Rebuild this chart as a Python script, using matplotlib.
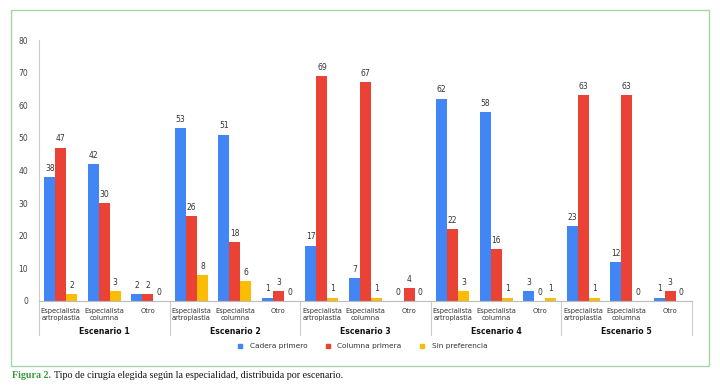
import matplotlib
matplotlib.use("Agg")
import matplotlib.pyplot as plt
from matplotlib.patches import Rectangle
from matplotlib.lines import Line2D
import numpy as np

scenarios = ["Escenario 1", "Escenario 2", "Escenario 3", "Escenario 4", "Escenario 5"]
categories = ["Especialista\nartroplastia", "Especialista\ncolumna", "Otro"]
series_names = ["Cadera primero", "Columna primera", "Sin preferencia"]
cadera = [38, 42, 2, 53, 51, 1, 17, 7, 0, 62, 58, 3, 23, 12, 1]
columna = [47, 30, 2, 26, 18, 3, 69, 67, 4, 22, 16, 0, 63, 63, 3]
sinpref = [2, 3, 0, 8, 6, 0, 1, 1, 0, 3, 1, 1, 1, 0, 0]
colors = ["#4285F4", "#EA4335", "#FBBC04"]
yticks = [0, 10, 20, 30, 40, 50, 60, 70, 80]

W, H = 720, 391
fig = plt.figure(figsize=(W / 100, H / 100), dpi=100)
ax = fig.add_axes([39 / W, 1 - 301 / H, (692 - 39) / W, (301 - 40) / H])

n = len(cadera)
x = np.arange(n)
bw = 0.253
for i, (vals, col) in enumerate(zip([cadera, columna, sinpref], colors)):
    pos = x + (i - 1) * bw
    ax.bar(pos, vals, width=bw, color=col, label=series_names[i], zorder=2)
    for p, v in zip(pos, vals):
        ax.text(p, v + 1.3, str(v), ha="center", va="bottom", fontsize=5.5, color="#333333")

ax.set_xlim(-0.5, n - 0.5)
ax.set_ylim(0, 80)
ax.set_yticks(yticks)
ax.set_yticklabels([str(t) for t in yticks], fontsize=5.5, color="#444444")
ax.tick_params(axis="y", length=0, pad=8)
ax.set_xticks([])
for s in ["top", "right"]:
    ax.spines[s].set_visible(False)
ax.spines["left"].set_color("#cccccc")
ax.spines["left"].set_linewidth(0.8)
ax.spines["bottom"].set_color("#bbbbbb")
ax.spines["bottom"].set_linewidth(0.8)

trans = ax.get_xaxis_transform()
# category labels
for i in range(n):
    ax.text(x[i], -0.028, categories[i % 3], transform=trans, ha="center", va="top",
            fontsize=4.9, color="#333333", linespacing=1.15)
# scenario labels and separators
for k, sc in enumerate(scenarios):
    ax.text(3 * k + 1, -0.1, sc, transform=trans, ha="center", va="top",
            fontsize=5.6, fontweight="bold", color="#111111")
for k in range(len(scenarios) + 1):
    xs = 3 * k - 0.5
    ax.add_line(Line2D([xs, xs], [0, -0.13], transform=trans, color="#cccccc",
                       linewidth=0.8, clip_on=False))

handles = [Line2D([], [], marker="s", linestyle="none", markersize=2.5,
                  markerfacecolor=c, markeredgecolor=c) for c in colors]
fig.legend(handles, series_names, loc="center", bbox_to_anchor=(360 / W, 1 - 346 / H),
           ncol=3, frameon=False, fontsize=5.3, handletextpad=0.3, columnspacing=1.8,
           labelcolor="#333333")

# green border
fig.patches.append(Rectangle((11 / W, 1 - 366 / H), (709 - 11) / W, (366 - 10) / H,
                             transform=fig.transFigure, fill=False,
                             edgecolor="#a8d4a8", linewidth=1.0))

# caption
t1 = fig.text(12 / W, 1 - 376 / H, "Figura 2.", fontsize=7.2, family="Liberation Serif",
              fontweight="bold", color="#3a9a3a", va="center", ha="left")
fig.canvas.draw()
bb = t1.get_window_extent()
fig.text((bb.x1 + 3) / W, 1 - 376 / H,
         "Tipo de cirugía elegida según la especialidad, distribuida por escenario.",
         fontsize=7.2, family="Liberation Serif", color="#111111", va="center", ha="left")

fig.savefig("out.png", dpi=100)
